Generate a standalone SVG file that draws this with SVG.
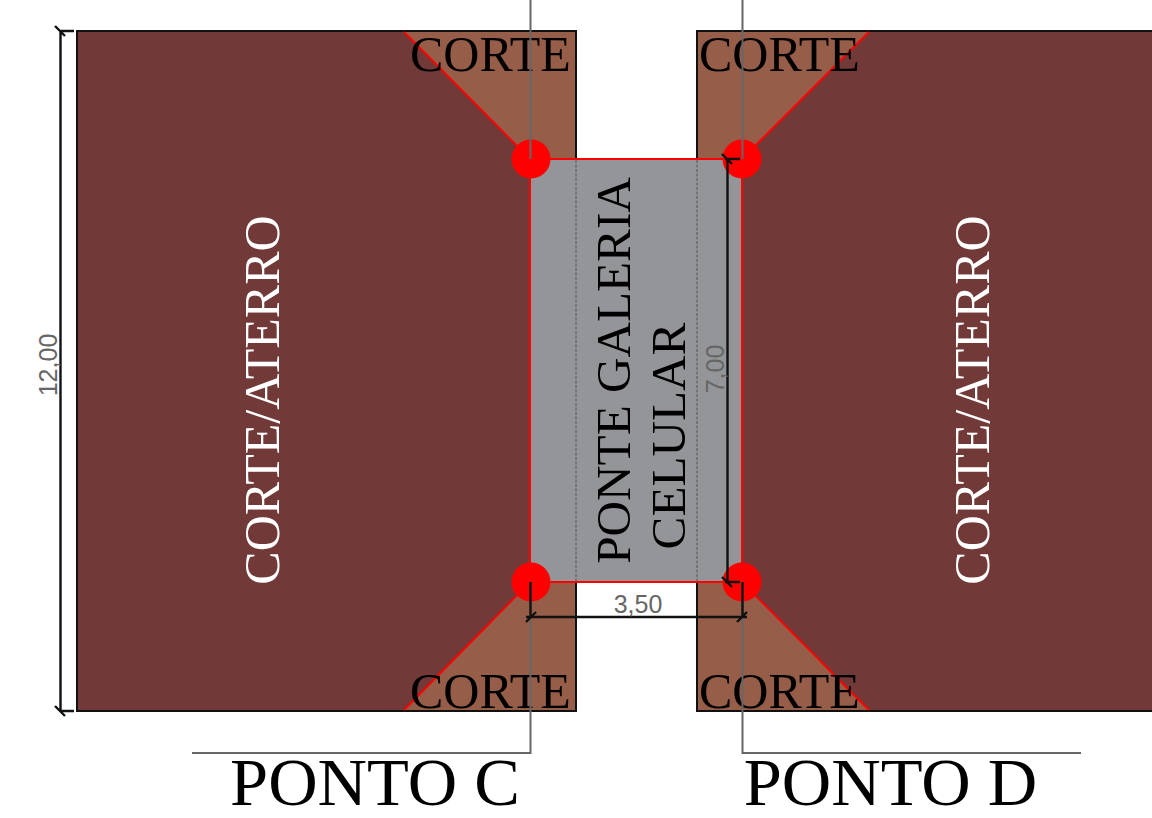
<svg xmlns="http://www.w3.org/2000/svg" width="1152" height="818" viewBox="0 0 1152 818">
<style>
.ser{font-family:"Liberation Serif","Times New Roman",serif}
.san{font-family:"Liberation Sans",Arial,sans-serif;fill:#666;font-size:25px}
.c{font-size:50px;fill:#000}
.ca{font-size:50px;fill:#fff}
.bd{fill:none;stroke:#111;stroke-width:2}
.red{fill:none;stroke:#f00;stroke-width:2}
.dim{fill:none;stroke:#111;stroke-width:2.400}
.g{fill:none;stroke:#666;stroke-width:2}
.dash{fill:none;stroke:#555;stroke-width:1;stroke-dasharray:3 1.5}
</style>
<rect width="1152" height="818" fill="#fff"/>
<g id="aterro-esquerdo">
<rect x="77" y="31" width="499" height="680" fill="#713937"/>
<polygon points="403,31 576,31 576,159 530,159" fill="#965d49"/>
<polygon points="403,711 576,711 576,582 530,582" fill="#965d49"/>
<path class="bd" d="M77,31H576V711H77Z"/>
<path class="red" d="M404,32L530,159M404,710L530,582"/>
<text class="ser ca" transform="translate(279,400) rotate(-90)" text-anchor="middle">CORTE/ATERRO</text>
</g>
<g id="aterro-direito">
<rect x="697" y="31" width="455" height="680" fill="#713937"/>
<polygon points="869,31 697,31 697,159 742,159" fill="#965d49"/>
<polygon points="869,711 697,711 697,582 742,582" fill="#965d49"/>
<path class="bd" d="M1152,31H697V711H1152"/>
<path class="red" d="M869,32L742,159M869,710L742,582"/>
<text class="ser ca" transform="translate(989,400) rotate(-90)" text-anchor="middle">CORTE/ATERRO</text>
</g>
<g id="ponte">
<rect x="530" y="159" width="212" height="423" fill="#939598"/>
<path class="red" d="M530,159H742V582H530Z"/>
<path class="dash" d="M576,160V581M697,160V581"/>
<text class="ser" font-size="49.200" fill="#000" transform="translate(630,370.500) rotate(-90)" text-anchor="middle">PONTE GALERIA</text>
<text class="ser" font-size="49.200" fill="#000" transform="translate(685,436) rotate(-90)" text-anchor="middle">CELULAR</text>
</g>
<g id="vertices" fill="#f00">
<circle cx="531" cy="159" r="19.500"/>
<circle cx="742" cy="159" r="19.500"/>
<circle cx="531" cy="582" r="19.500"/>
<circle cx="742" cy="582" r="19.500"/>
</g>
<g id="cortes">
<text class="ser c" x="410" y="71">CORTE</text>
<text class="ser c" x="699" y="71">CORTE</text>
<text class="ser c" x="410" y="708">CORTE</text>
<text class="ser c" x="699" y="708">CORTE</text>
</g>
<g id="connectors">
<path class="g" d="M530.500,0V159M742.500,0V159M530.500,582V753H192M742.500,582V753H1081"/>
<path class="dim" d="M60.500,31V711M60,31H74M60,711H74M55,26L65,36M55,706L65,716"/>
<path class="dim" d="M727.500,159V582M725,159H740M725,582H740M722,154L732,164M722,577L732,587"/>
<path class="dim" d="M526,617H747M530.500,582V617M742.500,582V617M526,622L536,612M737,622L747,612"/>
</g>
<g id="labels">
<text class="san" transform="translate(57,365) rotate(-90)" text-anchor="middle">12,00</text>
<text class="san" transform="translate(724,369) rotate(-90)" text-anchor="middle">7,00</text>
<text class="san" x="638" y="613" text-anchor="middle">3,50</text>
<text class="ser" font-size="68.500" fill="#000" x="375" y="805" text-anchor="middle">PONTO C</text>
<text class="ser" font-size="68.500" fill="#000" x="890.500" y="805" text-anchor="middle">PONTO D</text>
</g>
</svg>
